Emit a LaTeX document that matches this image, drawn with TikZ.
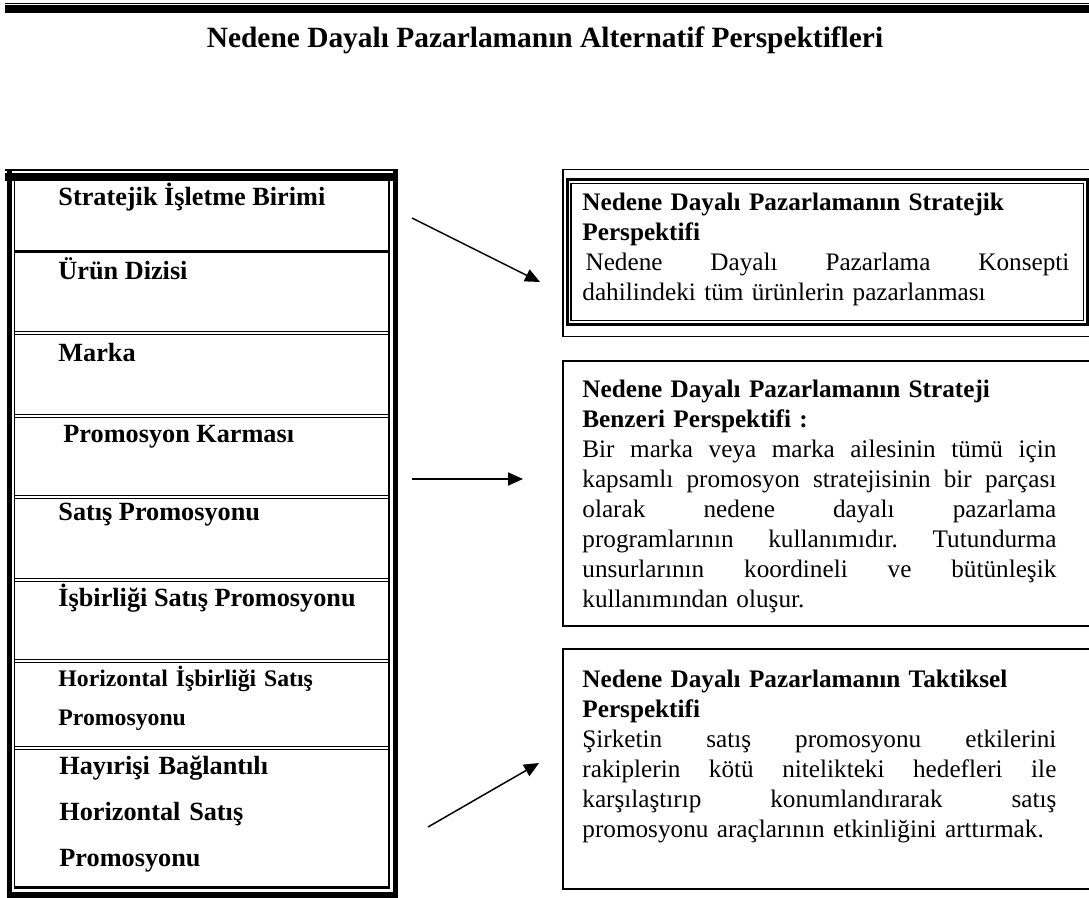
\documentclass[tikz,border=0pt]{standalone}
\usepackage{fontspec}
\setmainfont{Liberation Serif}
\usetikzlibrary{arrows.meta}
\frenchspacing
\newcommand{\jline}[2][225.6pt]{\makebox[#1][s]{\spaceskip=0pt\xspaceskip=0pt #2}}
\begin{document}
\begin{tikzpicture}[x=0.476pt,y=-0.476pt,
	lbl/.style={anchor=base west,inner sep=0pt,font=\fontsize{12.5}{15}\selectfont\bfseries},
	txt/.style={anchor=base west,inner sep=0pt,text width=#1,align=left,font=\fontsize{12}{14.3}\selectfont},
	ok/.style={-{Triangle[length=7.1pt,width=6.2pt]},line width=0.7pt}]
	\useasboundingbox (0,0) rectangle (1089,898);
	% ust cizgiler ve baslik
	\draw[line width=0.7pt] (5,3.3)--(1089,3.3);
	\draw[line width=3.7pt] (5,9)--(1089,9);
	\node[anchor=base,inner sep=0pt,font=\fontsize{14}{17}\selectfont\bfseries] (title) at (545,47) {Nedene Dayalı Pazarlamanın Alternatif Perspektifleri};
	% sol kutu
	\draw[line width=1pt] (5,170)--(398,170);
	\draw[line width=3.8pt] (5,177)--(398,177);
	\draw[line width=2.4pt] (9.5,170)--(9.5,898);
	\draw[line width=0.7pt] (14.5,181)--(14.5,888);
	\draw[line width=1pt] (389,181)--(389,888);
	\draw[line width=2.4pt] (395.5,170)--(395.5,898);
	\draw[line width=1pt] (14,887.5)--(390,887.5);
	\draw[line width=2.9pt] (7,895)--(398,895);
	\draw[line width=1.5pt] (14.5,251.5)--(389,251.5);
	\foreach \y in {333,416,497,580,661,748}
	\draw[line width=0.65pt] (14.5,\y-1.8)--(389,\y-1.8) (14.5,\y+1.8)--(389,\y+1.8);
	\node[lbl] (sib) at (58,205) {Stratejik İşletme Birimi};
	\node[lbl] (urun) at (58,279) {Ürün Dizisi};
	\node[lbl] (marka) at (58,361) {Marka};
	\node[lbl] (promkar) at (63,442) {Promosyon Karması};
	\node[lbl] (satis) at (58,520) {Satış Promosyonu};
	\node[lbl] (isbir) at (58,606) {İşbirliği Satış Promosyonu};
	\node[lbl,text width=150pt,align=left,font=\fontsize{11.3}{19}\selectfont\bfseries] (horis) at (58,686) {Horizontal İşbirliği Satış\\Promosyonu};
	\node[lbl,text width=150pt,align=left,font=\fontsize{12.5}{22.1}\selectfont\bfseries] (hayir) at (59,774) {Hayırişi Bağlantılı\\Horizontal Satış\\Promosyonu};
	% sag kutular
	\draw[line width=0.7pt] (1089,169.5)-|(563,336.5)--(1089,336.5);
	\draw[line width=1pt] (567.5,179.5) rectangle (1087.5,324.5);
	\draw[line width=0.7pt] (571,183.5) rectangle (1083.5,320.5);
	\draw[line width=0.7pt] (1089,361)-|(563,626)--(1089,626);
	\draw[line width=0.7pt] (1089,649)-|(563,889)--(1089,889);
	\node[txt=231.8pt] (stratp) at (582,210) {\textbf{Nedene Dayalı Pazarlamanın Stratejik}\\
		\textbf{Perspektifi}\\
		\jline[231.8pt]{\hspace{1.5pt}Nedene Dayalı Pazarlama Konsepti}\\
		dahilindeki tüm ürünlerin pazarlanması};
	\node[txt=225.6pt] (benzp) at (582,397) {\textbf{Nedene Dayalı Pazarlamanın Strateji}\\
		\textbf{Benzeri Perspektifi :}\\
		\jline{Bir marka veya marka ailesinin tümü için}\\
		\jline{kapsamlı promosyon stratejisinin bir parçası}\\
		\jline{olarak nedene dayalı pazarlama}\\
		\jline{programlarının kullanımıdır. Tutundurma}\\
		\jline{unsurlarının koordineli ve bütünleşik}\\
		kullanımından oluşur.};
	\node[txt=225.6pt] (taktp) at (582,687) {\textbf{Nedene Dayalı Pazarlamanın Taktiksel}\\
		\textbf{Perspektifi}\\
		\jline{Şirketin satış promosyonu etkilerini}\\
		\jline{rakiplerin kötü nitelikteki hedefleri ile}\\
		\jline{karşılaştırıp konumlandırarak satış}\\
		promosyonu araçlarının etkinliğini arttırmak.};
	% oklar
	\coordinate (o1) at (412,218);
	\coordinate (h1) at (540,282);
	\coordinate (o2) at (412,479);
	\coordinate (h2) at (523,479);
	\coordinate (o3) at (428,827);
	\coordinate (h3) at (539,763);
	\draw[ok] (o1)--(h1);
	\draw[ok] (o2)--(h2);
	\draw[ok] (o3)--(h3);
\end{tikzpicture}
\end{document}
